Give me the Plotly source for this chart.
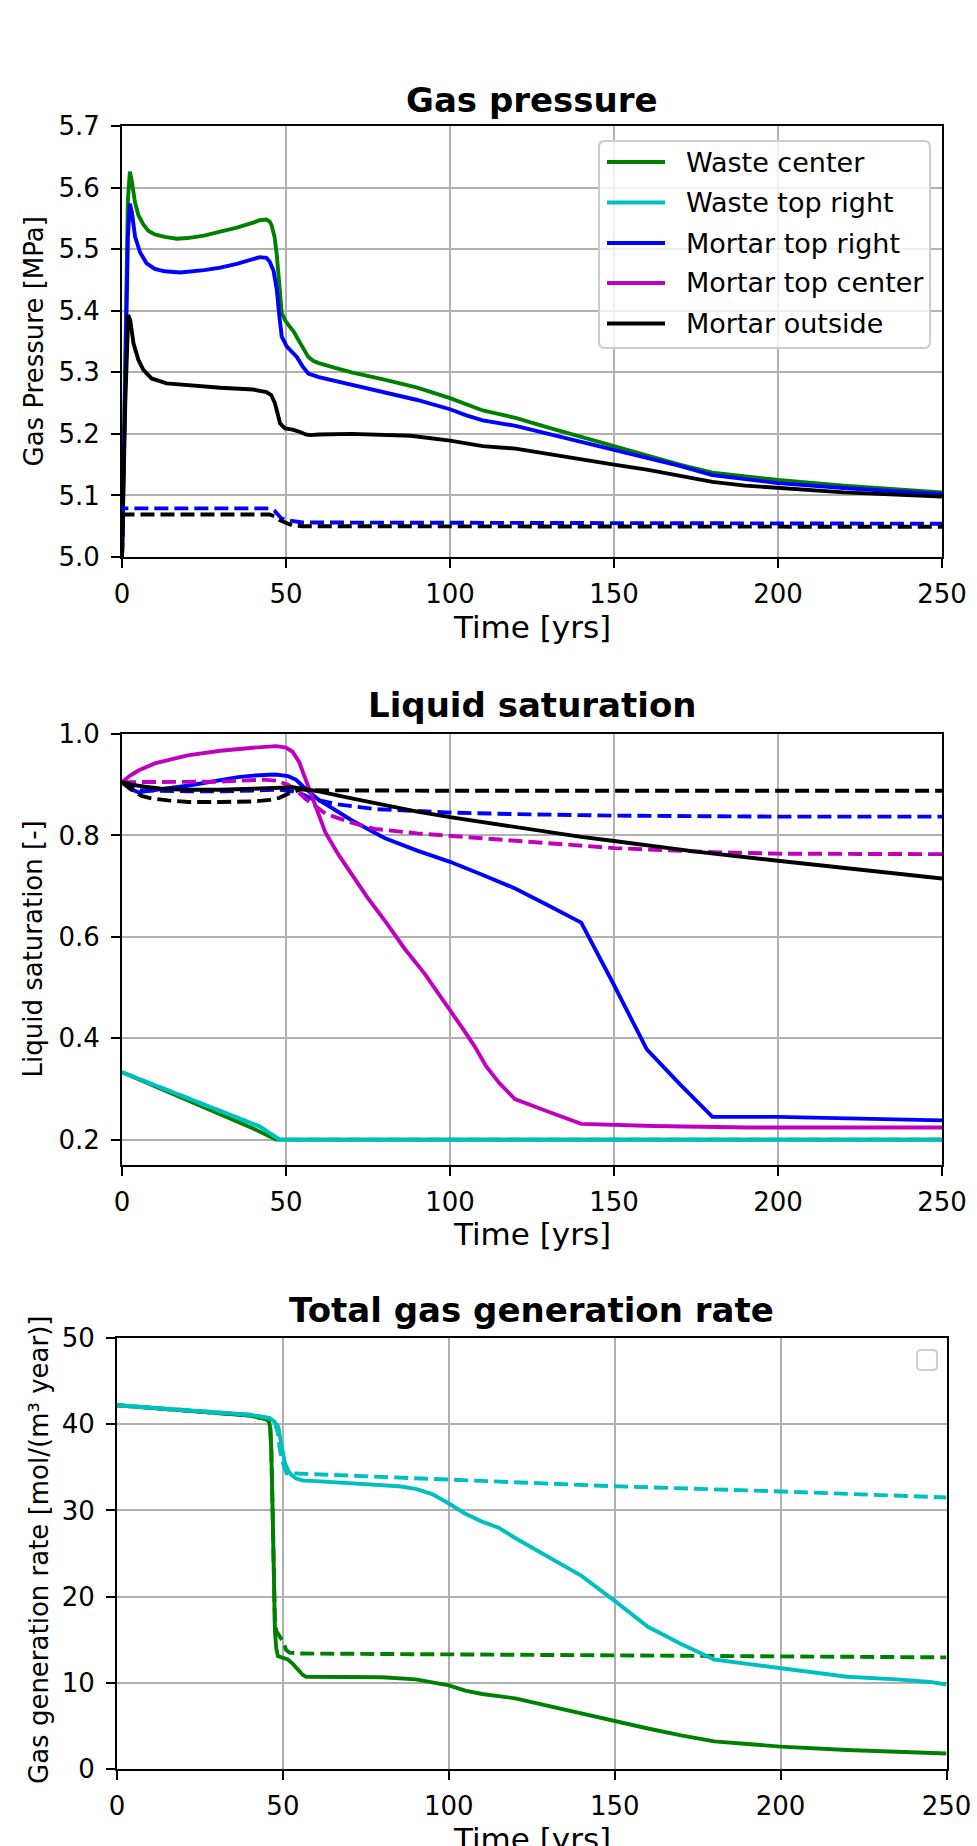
import plotly.graph_objects as go

# ---------------- Gas pressure (MPa) ----------------
t_p_green = [0, 1, 1.8, 2.4, 3, 4, 5, 6.5, 8, 10, 13, 16.7, 20, 25, 30, 35, 40, 42, 44, 45, 45.6, 46.5, 47.2, 47.8,
             48.7, 50, 51.5, 52.5, 53.5, 55, 56.8, 58.5, 60, 65, 70, 80, 90, 100, 105, 110, 115, 120, 130, 140, 150,
             160, 170, 180, 190, 200, 220, 235, 250]
p_green = [5.0, 5.35, 5.58, 5.626, 5.61, 5.575, 5.555, 5.54, 5.53, 5.524, 5.52, 5.517, 5.518, 5.522, 5.528, 5.535,
           5.543, 5.547, 5.548, 5.545, 5.539, 5.52, 5.49, 5.45, 5.396, 5.382, 5.373, 5.365, 5.355, 5.34, 5.325, 5.318,
           5.315, 5.307, 5.3, 5.288, 5.275, 5.258, 5.248, 5.238, 5.232, 5.226, 5.21, 5.195, 5.18, 5.165, 5.15, 5.137,
           5.131, 5.125, 5.116, 5.11, 5.105]

t_p_blue = [0, 1, 1.8, 2.4, 3, 4, 5.5, 7.5, 10, 13, 17.7, 25, 30, 35, 40, 42, 44, 45, 46.2, 47.2, 48, 48.7, 50.2, 52,
            53.3, 55, 56.8, 60, 70, 80, 90, 100, 105, 110, 120, 130, 140, 150, 160, 170, 180, 190, 200, 220, 250]
p_blue = [5.0, 5.3, 5.52, 5.574, 5.56, 5.52, 5.495, 5.477, 5.468, 5.464, 5.462, 5.466, 5.47, 5.476, 5.484, 5.487,
          5.486, 5.48, 5.465, 5.434, 5.39, 5.358, 5.342, 5.333, 5.325, 5.31, 5.298, 5.292, 5.28, 5.268, 5.255, 5.24,
          5.23, 5.222, 5.213, 5.2, 5.187, 5.175, 5.162, 5.148, 5.133, 5.126, 5.12, 5.112, 5.102]

t_p_black = [0, 1, 1.9, 2.5, 3.5, 5, 6.5, 9, 13.6, 20, 30, 40, 44, 45.5, 46.6, 47.5, 48.2, 49.7, 52, 54.3, 56, 57.3,
             60, 70, 80, 88, 100, 110, 120, 130, 140, 150, 160, 170, 180, 190, 200, 220, 250]
p_black = [5.0, 5.25, 5.393, 5.385, 5.347, 5.32, 5.304, 5.29, 5.282, 5.279, 5.275, 5.272, 5.268, 5.263, 5.25, 5.232,
           5.217, 5.209, 5.207, 5.203, 5.199, 5.198, 5.199, 5.2, 5.199, 5.197, 5.189, 5.18, 5.176, 5.167, 5.158, 5.15,
           5.142, 5.132, 5.122, 5.116, 5.112, 5.105, 5.098]

t_p_blue_d = [0, 0.3, 44, 45.5, 46.5, 47.5, 48.5, 50, 52, 55, 60, 250]
p_blue_d = [5.0, 5.079, 5.079, 5.078, 5.075, 5.069, 5.063, 5.06, 5.058, 5.056, 5.056, 5.054]
t_p_black_d = [0, 0.3, 45, 46.5, 48, 50, 52, 55, 250]
p_black_d = [5.0, 5.069, 5.069, 5.066, 5.06, 5.055, 5.051, 5.05, 5.049]

# ---------------- Liquid saturation (-) ----------------
t_s_green = [0, 10, 20, 30, 40, 47, 250]
s_green = [0.333, 0.305, 0.277, 0.25, 0.222, 0.2, 0.2]
t_s_cyan = [0, 10, 20, 30, 38, 42, 48, 250]
s_cyan = [0.333, 0.307, 0.281, 0.256, 0.236, 0.226, 0.2, 0.2]

t_s_blue = [0, 2.5, 5, 8, 12.7, 20, 26, 30, 35.4, 40, 46.8, 50.6, 53, 55.3, 60, 70, 80, 90, 100, 110, 120, 130,
            140, 150, 160, 170, 180, 200, 250]
s_blue = [0.905, 0.892, 0.885, 0.887, 0.892, 0.898, 0.905, 0.909, 0.915, 0.918, 0.92, 0.917, 0.91, 0.896, 0.87,
          0.83, 0.795, 0.77, 0.748, 0.722, 0.695, 0.662, 0.628, 0.505, 0.378, 0.31, 0.245, 0.245, 0.238]

t_s_mag = [0, 2.5, 5, 10, 20, 30, 40, 47, 50, 52, 54, 56, 58, 62, 66, 70, 75, 80.9, 86, 92.3, 96, 100.3, 104,
           107.5, 111, 115, 119.8, 130, 140, 162, 191, 250]
s_mag = [0.905, 0.918, 0.928, 0.942, 0.958, 0.967, 0.973, 0.976, 0.973, 0.965, 0.945, 0.91, 0.872, 0.806, 0.762,
         0.723, 0.676, 0.625, 0.578, 0.527, 0.493, 0.455, 0.418, 0.384, 0.345, 0.312, 0.28, 0.255, 0.231, 0.227,
         0.224, 0.224]

t_s_black = [0, 3, 7, 12, 20, 30, 40, 48, 52, 55, 60, 70, 80, 90, 100, 120, 140, 150, 175, 200, 225, 250]
s_black = [0.905, 0.9, 0.896, 0.892, 0.89, 0.89, 0.892, 0.895, 0.895, 0.892, 0.887, 0.873, 0.86, 0.847, 0.836,
           0.816, 0.797, 0.789, 0.768, 0.75, 0.732, 0.715]

t_s_blue_d = [0, 2.5, 5, 10, 20, 30, 40, 48, 52, 55, 58, 65, 77, 90, 100, 120, 150, 200, 250]
s_blue_d = [0.905, 0.895, 0.889, 0.888, 0.887, 0.887, 0.888, 0.89, 0.887, 0.881, 0.872, 0.862, 0.852, 0.847,
            0.845, 0.842, 0.839, 0.837, 0.837]

t_s_mag_d = [0, 10, 20, 30, 43, 47, 50.6, 53, 56, 62, 70, 77, 90, 100, 120, 150, 180, 200, 250]
s_mag_d = [0.905, 0.905, 0.905, 0.906, 0.91, 0.908, 0.9, 0.89, 0.872, 0.843, 0.825, 0.813, 0.804, 0.799, 0.789,
           0.775, 0.767, 0.764, 0.763]

t_s_black_d = [0, 3, 6, 8.9, 14, 20.3, 30, 40, 45, 48, 51, 54.4, 58, 100, 250]
s_black_d = [0.905, 0.89, 0.878, 0.873, 0.869, 0.866, 0.866, 0.867, 0.87, 0.874, 0.883, 0.891, 0.889, 0.888, 0.888]

# ---------------- Total gas generation rate ----------------
t_g_green = [0, 20, 40, 45, 45.8, 46.2, 46.5, 46.9, 47.2, 47.6, 48, 48.5, 50, 51.5, 53, 54.5, 56, 57, 70, 80, 90,
             95, 100, 105, 110, 120, 130, 140, 150, 160, 170, 180, 190, 200, 220, 240, 250]
g_green = [42.2, 41.6, 41.0, 40.6, 40.3, 39.5, 37, 30, 22, 16, 14, 13.1, 12.9, 12.7, 12.2, 11.5, 10.9, 10.7, 10.7,
           10.65, 10.4, 10.1, 9.7, 9.1, 8.7, 8.2, 7.3, 6.5, 5.6, 4.7, 3.9, 3.2, 2.9, 2.6, 2.2, 1.9, 1.8]

t_g_green_d = [0, 40, 45, 45.8, 46.2, 46.5, 46.9, 47.2, 47.6, 48, 49, 50, 51, 52, 55, 100, 150, 200, 250]
g_green_d = [42.2, 41.0, 40.6, 40.3, 39.5, 37, 30, 22, 17, 16, 15.3, 14.8, 13.8, 13.5, 13.4, 13.3, 13.2, 13.1, 12.95]

t_g_cyan = [0, 20, 40, 46, 47.5, 48.6, 49.5, 50.6, 51.5, 52.6, 54, 56.2, 60, 70, 80, 85, 90, 95, 100, 105, 110,
            115, 120, 130, 140, 150, 160, 170, 180, 190, 200, 210, 220, 235, 245, 250]
g_cyan = [42.2, 41.7, 41.1, 40.7, 40.3, 39.7, 38, 35.5, 34.7, 34.1, 33.7, 33.45, 33.4, 33.2, 33.0, 32.8, 32.5,
          31.9, 30.8, 29.6, 28.7, 28.0, 26.8, 24.6, 22.4, 19.5, 16.5, 14.5, 12.7, 12.2, 11.7, 11.2, 10.7, 10.4,
          10.1, 9.8]

t_g_cyan_d = [0, 40, 46, 47.5, 48.5, 49.1, 50, 51.1, 53, 60, 100, 150, 200, 250]
g_cyan_d = [42.2, 41.1, 40.7, 40.2, 39, 37, 35.5, 34.3, 34.3, 34.2, 33.6, 32.8, 32.2, 31.5]

legend_names = ["Waste center", "Waste top right", "Mortar top right", "Mortar top center", "Mortar outside"]
legend_colors = ["#008000", "#00BFBF", "#0000FF", "#BF00BF", "#000000"]
colors = {"green": "#008000", "cyan": "#00BFBF", "blue": "#0000FF", "mag": "#BF00BF", "black": "#000000"}

W, H = 977, 1846
LW = 3.9
DASH = "14px,6px"

fig = go.Figure()


def add(x, y, color, xa, ya, dash=None, name=None):
    fig.add_trace(go.Scatter(
        x=x, y=y, mode="lines", name=name, showlegend=False,
        line=dict(color=color, width=LW, dash=dash if dash else "solid"),
        xaxis=xa, yaxis=ya, hoverinfo="skip"))


# Chart 1: gas pressure
add(t_p_green, p_green, colors["green"], "x", "y", name=legend_names[0])
add(t_p_blue, p_blue, colors["blue"], "x", "y", name=legend_names[2])
add(t_p_black, p_black, colors["black"], "x", "y", name=legend_names[4])
add(t_p_blue_d, p_blue_d, colors["blue"], "x", "y", dash=DASH, name=legend_names[2])
add(t_p_black_d, p_black_d, colors["black"], "x", "y", dash=DASH, name=legend_names[4])

# Chart 2: liquid saturation
add(t_s_green, s_green, colors["green"], "x2", "y2", name=legend_names[0])
add(t_s_cyan, s_cyan, colors["cyan"], "x2", "y2", name=legend_names[1])
add(t_s_cyan, s_cyan, colors["cyan"], "x2", "y2", dash=DASH, name=legend_names[1])
add(t_s_blue, s_blue, colors["blue"], "x2", "y2", name=legend_names[2])
add(t_s_blue_d, s_blue_d, colors["blue"], "x2", "y2", dash=DASH, name=legend_names[2])
add(t_s_mag, s_mag, colors["mag"], "x2", "y2", name=legend_names[3])
add(t_s_mag_d, s_mag_d, colors["mag"], "x2", "y2", dash=DASH, name=legend_names[3])
add(t_s_black, s_black, colors["black"], "x2", "y2", name=legend_names[4])
add(t_s_black_d, s_black_d, colors["black"], "x2", "y2", dash=DASH, name=legend_names[4])

# Chart 3: gas generation rate
add(t_g_green, g_green, colors["green"], "x3", "y3", name=legend_names[0])
add(t_g_green_d, g_green_d, colors["green"], "x3", "y3", dash=DASH, name=legend_names[0])
add(t_g_cyan, g_cyan, colors["cyan"], "x3", "y3", name=legend_names[1])
add(t_g_cyan_d, g_cyan_d, colors["cyan"], "x3", "y3", dash=DASH, name=legend_names[1])


def px_x(p):
    return p / W


def px_y(p):
    return 1 - p / H


def rounded_rect(l, r, t, b, rad):
    pts = []
    pts.append("M%.5f,%.5f" % (px_x(l + rad), px_y(t)))
    pts.append("L%.5f,%.5f" % (px_x(r - rad), px_y(t)))
    pts.append("Q%.5f,%.5f %.5f,%.5f" % (px_x(r), px_y(t), px_x(r), px_y(t + rad)))
    pts.append("L%.5f,%.5f" % (px_x(r), px_y(b - rad)))
    pts.append("Q%.5f,%.5f %.5f,%.5f" % (px_x(r), px_y(b), px_x(r - rad), px_y(b)))
    pts.append("L%.5f,%.5f" % (px_x(l + rad), px_y(b)))
    pts.append("Q%.5f,%.5f %.5f,%.5f" % (px_x(l), px_y(b), px_x(l), px_y(b - rad)))
    pts.append("L%.5f,%.5f" % (px_x(l), px_y(t + rad)))
    pts.append("Q%.5f,%.5f %.5f,%.5f" % (px_x(l), px_y(t), px_x(l + rad), px_y(t)))
    return " ".join(pts) + " Z"


# axes boxes in pixels (left, right, top, bottom)
boxes = [(122, 942, 126, 557), (122, 942, 734, 1165), (117, 946.5, 1338, 1769)]

axis_common = dict(showline=True, linecolor="black", linewidth=2, mirror=True,
                   showgrid=True, gridcolor="#b0b0b0", gridwidth=2, zeroline=False,
                   ticks="outside", ticklen=9, tickwidth=2, tickcolor="black", automargin=False,
                   tickfont=dict(family="DejaVu Sans", size=26, color="black"))

yranges = [[5.0, 5.7], [0.15, 1.0], [0, 50]]
ytickvals = [[5.0, 5.1, 5.2, 5.3, 5.4, 5.5, 5.6, 5.7], [0.2, 0.4, 0.6, 0.8, 1.0], [0, 10, 20, 30, 40, 50]]
yticktext = [["5.0", "5.1", "5.2", "5.3", "5.4", "5.5", "5.6", "5.7"], ["0.2", "0.4", "0.6", "0.8", "1.0"],
             ["0", "10", "20", "30", "40", "50"]]
xticks = [0, 50, 100, 150, 200, 250]

layout = dict(width=W, height=H, autosize=False, showlegend=False,
              margin=dict(l=0, r=0, t=0, b=0, pad=0, autoexpand=False),
              paper_bgcolor="white", plot_bgcolor="white",
              font=dict(family="DejaVu Sans", size=26, color="black"))
for i, (l, r, t, b) in enumerate(boxes):
    sfx = "" if i == 0 else str(i + 1)
    layout["xaxis" + sfx] = dict(axis_common, domain=[px_x(l), px_x(r)], range=[0, 250],
                                 tickvals=xticks, ticktext=[str(v) for v in xticks],
                                 anchor="y" + sfx, ticklabelstandoff=4)
    layout["yaxis" + sfx] = dict(axis_common, domain=[px_y(b), px_y(t)], range=yranges[i],
                                 tickvals=ytickvals[i], ticktext=yticktext[i],
                                 anchor="x" + sfx, ticklabelstandoff=6)

fig.update_layout(**layout)

titles = [("Gas pressure", 100), ("Liquid saturation", 705), ("Total gas generation rate", 1310)]
ylabels = [("Gas Pressure [MPa]", 33, 341.5), ("Liquid saturation [-]", 33, 949.5),
           ("Gas generation rate [mol/(m³ year)]", 39, 1550)]
xlabel_y = [627, 1233.5, 1839]

annotations = []
for i, (l, r, t, b) in enumerate(boxes):
    cx = (l + r) / 2
    annotations.append(dict(text="<b>%s</b>" % titles[i][0], x=px_x(cx), y=px_y(titles[i][1]),
                            xref="paper", yref="paper", showarrow=False, xanchor="center", yanchor="middle",
                            font=dict(family="DejaVu Sans", size=34, color="black")))
    annotations.append(dict(text="Time [yrs]", x=px_x(cx), y=px_y(xlabel_y[i]),
                            xref="paper", yref="paper", showarrow=False, xanchor="center", yanchor="middle",
                            font=dict(family="DejaVu Sans", size=31, color="black")))
    annotations.append(dict(text=ylabels[i][0], x=px_x(ylabels[i][1]), y=px_y(ylabels[i][2]),
                            xref="paper", yref="paper", showarrow=False, xanchor="center", yanchor="middle",
                            textangle=-90, font=dict(family="DejaVu Sans", size=26, color="black")))

# legend of the first chart (matplotlib-style frame)
shapes = [dict(type="path", xref="paper", yref="paper", path=rounded_rect(599, 930, 141, 348, 6),
               line=dict(color="#cccccc", width=2), fillcolor="rgba(255,255,255,0.8)", layer="above")]
row_y = [162, 202.5, 243, 283, 323.5]
for name, col, ry in zip(legend_names, legend_colors, row_y):
    shapes.append(dict(type="line", xref="paper", yref="paper", x0=px_x(607), x1=px_x(665),
                       y0=px_y(ry), y1=px_y(ry), line=dict(color=col, width=LW), layer="above"))
    annotations.append(dict(text=name, x=px_x(684), y=px_y(ry), xref="paper", yref="paper", showarrow=False,
                            xanchor="left", yanchor="middle",
                            font=dict(family="DejaVu Sans", size=27, color="black")))

# empty legend frame of the third chart
shapes.append(dict(type="path", xref="paper", yref="paper", path=rounded_rect(917, 937, 1350, 1370, 4),
                   line=dict(color="#d0d0d0", width=2), fillcolor="rgba(255,255,255,0.8)", layer="above"))

fig.update_layout(annotations=annotations, shapes=shapes)

fig.write_html("out.html")
